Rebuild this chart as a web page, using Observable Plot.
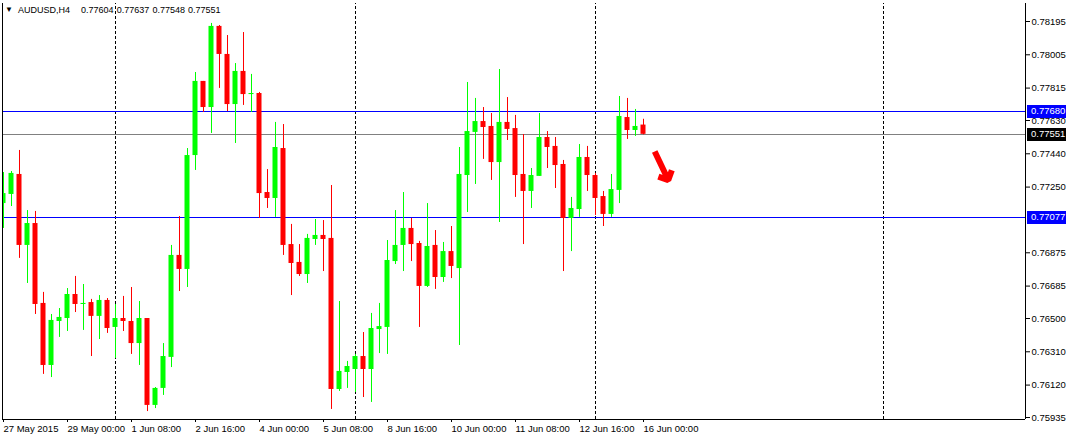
<!DOCTYPE html>
<html><head><meta charset="utf-8">
<script src="https://cdn.jsdelivr.net/npm/d3@7"></script>
<script src="https://cdn.jsdelivr.net/npm/@observablehq/plot@0.6"></script>
<style>
body{margin:0;background:#fff;}
#chart{position:relative;width:1068px;height:439px;overflow:hidden;}
#hdr{position:absolute;left:0;top:3px;font:9px "Liberation Sans",Arial,sans-serif;color:#000;white-space:pre;line-height:14px;}
#hdr span{position:absolute;top:0;}
</style></head><body><div id="chart"><div id="hdr"></div></div>
<script>
// AUDUSD H4 candles, bar 0 = 27 May 2015 16:00
const opens = [0.77156,0.77208,0.77322,0.76917,0.77042,0.76586,0.76232,0.76483,0.76500,0.76637,
0.76580,0.76591,0.76512,0.76603,0.76449,0.76500,0.76483,0.76357,0.76500,0.76004,
0.76101,0.76278,0.76860,0.76780,0.77430,0.77853,0.77704,0.78167,0.78007,0.77721,
0.77910,0.77778,0.77784,0.77219,0.77185,0.77470,0.76922,0.76820,0.76751,0.76951,
0.76974,0.76957,0.76095,0.76192,0.76209,0.76283,0.76209,0.76437,0.76449,0.76825,
0.76917,0.77014,0.76928,0.76683,0.76917,0.76734,0.76882,0.76785,0.77316,0.77562,
0.77624,0.77596,0.77390,0.77619,0.77584,0.77322,0.77225,0.77311,0.77533,0.77482,
0.77379,0.77071,0.77122,0.77419,0.77316,0.77196,0.77094,0.77231,0.77647,0.77573,0.77604];
const highs = [0.77333,0.77339,0.77459,0.77116,0.77111,0.76649,0.76523,0.76557,0.76671,0.76740,
0.76694,0.76609,0.76631,0.76614,0.76580,0.76626,0.76677,0.76597,0.76500,0.76106,
0.76357,0.76917,0.77082,0.77470,0.77904,0.77853,0.78184,0.78172,0.78115,0.77955,
0.78132,0.77893,0.77790,0.77350,0.77619,0.77607,0.77037,0.76922,0.76980,0.77065,
0.77059,0.77259,0.76597,0.76255,0.76295,0.76420,0.76529,0.76586,0.76945,0.77116,
0.77219,0.77071,0.76940,0.77156,0.77002,0.76934,0.77025,0.77476,0.77847,0.77756,
0.77704,0.77670,0.77921,0.77761,0.77659,0.77550,0.77356,0.77670,0.77567,0.77533,
0.77402,0.77191,0.77493,0.77482,0.77328,0.77225,0.77322,0.77767,0.77756,0.77693,0.77637];
const lows = [0.77014,0.77139,0.76843,0.76700,0.76523,0.76181,0.76163,0.76392,0.76426,0.76534,
0.76432,0.76283,0.76380,0.76415,0.76272,0.76426,0.76295,0.76232,0.75969,0.75986,
0.76061,0.76220,0.76654,0.76677,0.77345,0.77676,0.77556,0.77813,0.77681,0.77499,
0.77716,0.77676,0.77071,0.77128,0.77077,0.76860,0.76631,0.76740,0.76700,0.76917,
0.76768,0.75981,0.76084,0.76101,0.76078,0.76049,0.76021,0.76300,0.76295,0.76808,
0.76768,0.76825,0.76449,0.76677,0.76666,0.76706,0.76728,0.76346,0.77105,0.77265,
0.77408,0.77288,0.77048,0.77516,0.77191,0.76922,0.77128,0.77311,0.77356,0.77242,
0.76768,0.76882,0.77077,0.77225,0.77088,0.77025,0.77077,0.77156,0.77522,0.77539,0.77548];
const closes = [0.77213,0.77328,0.76917,0.77042,0.76580,0.76232,0.76489,0.76506,0.76637,0.76580,
0.76586,0.76512,0.76603,0.76443,0.76500,0.76483,0.76357,0.76500,0.76004,0.76101,
0.76283,0.76860,0.76780,0.77430,0.77853,0.77704,0.78167,0.78007,0.77721,0.77910,
0.77778,0.77784,0.77213,0.77185,0.77476,0.76917,0.76814,0.76751,0.76957,0.76974,
0.76951,0.76095,0.76198,0.76226,0.76283,0.76209,0.76443,0.76454,0.76831,0.76917,
0.77014,0.76922,0.76683,0.76911,0.76734,0.76882,0.76797,0.77322,0.77567,0.77624,
0.77590,0.77390,0.77619,0.77579,0.77316,0.77225,0.77316,0.77533,0.77476,0.77373,
0.77071,0.77128,0.77419,0.77316,0.77185,0.77094,0.77236,0.77653,0.77573,0.77596,0.77551];

const symbolName = "AUDUSD,H4";
const headerOHLC = ["0.77604","0.77637","0.77548","0.77551"];
const timeTickIdx = [0,8,16,24,32,40,48,56,64,72,80];
const timeTickLabels = ["27 May 2015","29 May 00:00","1 Jun 08:00","2 Jun 16:00","4 Jun 00:00","5 Jun 08:00","8 Jun 16:00","10 Jun 00:00","11 Jun 08:00","12 Jun 16:00","16 Jun 00:00"];
const priceTicks = [0.78195,0.78005,0.77815,0.77630,0.77440,0.77250,0.76875,0.76685,0.76500,0.76310,0.76120,0.75935];
const levelLines = [0.77680,0.77077];
const bidPrice = 0.77551;
const separators = [14,44,74,110];
const arrowAnno = [{x1:81.4,y1:0.77453,x2:83.1,y2:0.77290}];

const bars = opens.map((o,i)=>({i,o,h:highs[i],l:lows[i],c:closes[i],up:closes[i]>=o}));
const UP="#00ff00", DN="#ff0000", LVL="#0000ff", BID="#808080";
const FONT='"Liberation Sans", Arial, sans-serif';
const pxPrice = 0.00005707;
const W=1068,H=439,mL=2,mR=43,mT=3,mB=20;
const xDom=[(mL-3)/8,(W-mR-3)/8];
const yDom=[0.78195-(H-mB-21)*pxPrice, 0.78195+(21-mT)*pxPrice];

const chart = Plot.plot({
  width:W,height:H,marginLeft:mL,marginRight:mR,marginTop:mT,marginBottom:mB,
  style:{fontFamily:FONT,fontSize:"9.5px",background:"#fff",color:"#000",overflow:"visible"},
  x:{domain:xDom},
  y:{domain:yDom},
  marks:[
    Plot.ruleX(separators,{stroke:"#000",strokeDasharray:"3,2",y1:yDom[0],y2:yDom[1]}),
    Plot.ruleY(levelLines,{stroke:LVL}),
    Plot.ruleY([bidPrice],{stroke:BID}),
    Plot.ruleX(bars,{x:"i",y1:"l",y2:"h",stroke:d=>d.up?UP:DN,clip:true}),
    Plot.rect(bars,{x1:d=>d.i-0.3125,x2:d=>d.i+0.3125,y1:"o",y2:d=>d.c===d.o?d.c+0.00001:d.c,fill:d=>d.up?UP:DN,clip:true}),
    Plot.arrow(arrowAnno,{x1:"x1",y1:"y1",x2:"x2",y2:"y2",stroke:DN,strokeWidth:6,headLength:11,headAngle:90,strokeLinecap:"butt",strokeLinejoin:"miter"}),
    Plot.axisX({ticks:timeTickIdx,tickFormat:(d)=>timeTickLabels[timeTickIdx.indexOf(d)],tickSize:3,tickPadding:3,textAnchor:"start",label:null,fontSize:9.5}),
    Plot.axisY({anchor:"right",ticks:priceTicks,tickFormat:d=>d.toFixed(5),tickSize:4,tickPadding:2,label:null,fontSize:9.5}),
    Plot.ruleX([xDom[0],xDom[1]],{stroke:"#000"}),
    Plot.ruleY([yDom[0]],{stroke:"#000"})
  ]
});
document.getElementById("chart").prepend(chart);

// snap horizontal 1px lines to whole pixels
d3.select(chart).selectAll("line").each(function(){
  const l=d3.select(this);
  if (l.attr("y1")===null) return;
  const a=+l.attr("y1"), b=+l.attr("y2");
  if (a===b) { const r=Math.round(a); l.attr("y1",r).attr("y2",r); }
});

// highlighted price labels on the right scale
const ys = chart.scale("y");
const svg = d3.select(chart);
[[levelLines[0],LVL],[bidPrice,"#000000"],[levelLines[1],LVL]].forEach(([v,col])=>{
  const yy = Math.round(ys.apply(v));
  svg.append("rect").attr("x",W-mR+2).attr("y",yy-6).attr("width",39).attr("height",13).attr("fill",col);
  svg.append("text").attr("x",W-mR+6).attr("y",yy).attr("dy","0.35em").attr("fill","#fff")
     .attr("text-anchor","start").attr("font-size",9.5).attr("font-family",FONT).text(v.toFixed(5));
});

// header line
const hdr = document.getElementById("hdr");
const parts = [["▼",5,"font-size:8px"],[symbolName,18,""]].concat(headerOHLC.map((t,k)=>[t,81+k*35.7,""]));
parts.forEach(([t,x,st])=>{ const s=document.createElement("span"); s.textContent=t; s.style.left=x+"px"; if(st) s.style.cssText+=";"+st; hdr.appendChild(s); });
</script></body></html>
